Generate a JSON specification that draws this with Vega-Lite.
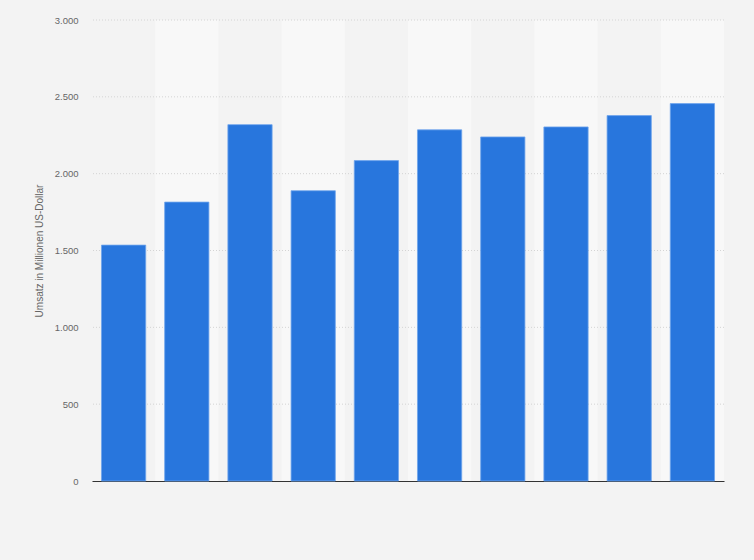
{
  "$schema": "https://vega.github.io/schema/vega-lite/v6.json",
  "autosize": "none",
  "width": 632,
  "height": 461,
  "padding": {"left": 92, "top": 20, "right": 30, "bottom": 79},
  "background": "#f3f3f3",
  "datasets": {
    "umsatz": [
      {"idx": 1, "umsatz": 1535},
      {"idx": 2, "umsatz": 1815},
      {"idx": 3, "umsatz": 2319},
      {"idx": 4, "umsatz": 1889},
      {"idx": 5, "umsatz": 2085},
      {"idx": 6, "umsatz": 2285},
      {"idx": 7, "umsatz": 2239},
      {"idx": 8, "umsatz": 2304},
      {"idx": 9, "umsatz": 2378},
      {"idx": 10, "umsatz": 2456}
    ],
    "gitter": [
      {"wert": 500}, {"wert": 1000}, {"wert": 1500},
      {"wert": 2000}, {"wert": 2500}, {"wert": 3000}
    ]
  },
  "layer": [
    {
      "data": {"name": "umsatz"},
      "transform": [{"filter": "datum.idx % 2 == 0"}],
      "mark": {"type": "bar", "width": {"band": 1.4286}, "color": "#f8f8f8"},
      "encoding": {
        "x": {"field": "idx", "type": "ordinal"},
        "y": {"datum": 3000, "type": "quantitative"},
        "y2": {"datum": 0}
      }
    },
    {
      "data": {"name": "gitter"},
      "mark": {"type": "rule", "color": "#d4d4d4", "strokeDash": [1, 2], "strokeWidth": 1},
      "encoding": {
        "y": {"field": "wert", "type": "quantitative"}
      }
    },
    {
      "data": {"name": "umsatz"},
      "mark": {"type": "bar", "color": "#2876dd", "stroke": "#6fa5ec", "strokeWidth": 0.8},
      "encoding": {
        "x": {
          "field": "idx",
          "type": "ordinal",
          "scale": {"paddingInner": 0.3, "paddingOuter": 0.15},
          "axis": {
            "title": null,
            "labels": false,
            "ticks": false,
            "domainColor": "#333333",
            "domainWidth": 1.2
          }
        },
        "y": {
          "field": "umsatz",
          "type": "quantitative",
          "scale": {"domain": [0, 3000]},
          "axis": {
            "title": "Umsatz in Millionen US-Dollar",
            "titleFont": "Liberation Sans",
            "titleFontSize": 10,
            "titleFontWeight": "normal",
            "titleColor": "#666666",
            "titlePadding": 10,
            "values": [0, 500, 1000, 1500, 2000, 2500, 3000],
            "labelExpr": "replace(format(datum.value, ','), ',', '.')",
            "labelFont": "Liberation Sans",
            "labelFontSize": 9.5,
            "labelColor": "#666666",
            "labelPadding": 14,
            "ticks": false,
            "domain": false,
            "grid": false
          }
        }
      }
    }
  ],
  "config": {
    "view": {"stroke": null}
  }
}
